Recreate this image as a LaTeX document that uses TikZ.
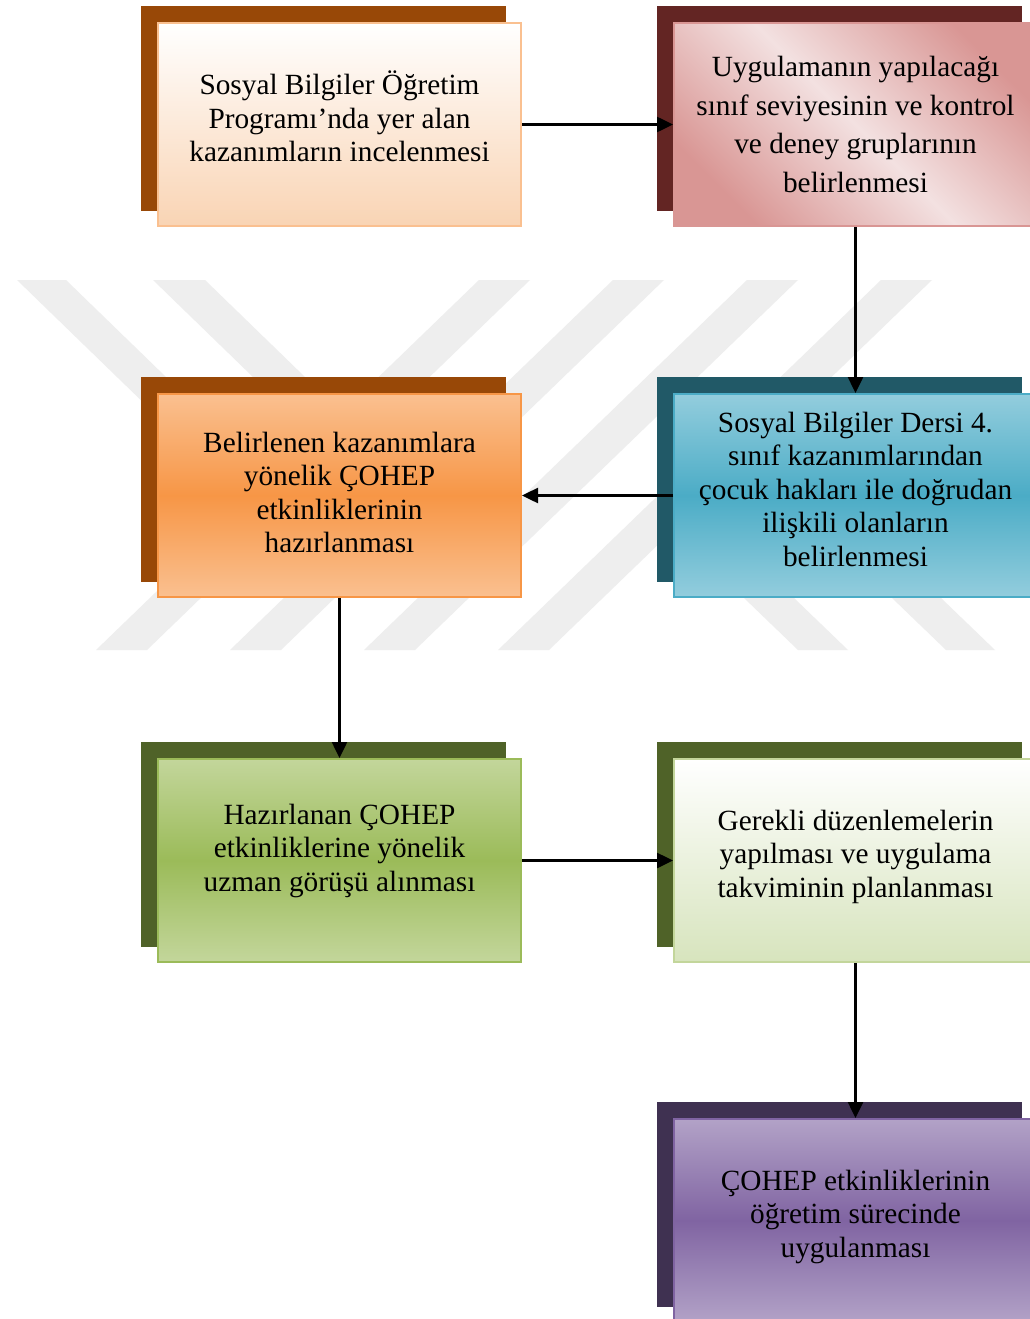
\documentclass[tikz,border=0pt]{standalone}
\usepackage{fontspec}
\setmainfont{Liberation Serif}
\usetikzlibrary{arrows.meta}

% back (shadow) colours
\definecolor{brownback}{HTML}{984807}
\definecolor{wineback}{HTML}{632523}
\definecolor{tealback}{HTML}{215967}
\definecolor{oliveback}{HTML}{4F6228}
\definecolor{plumback}{HTML}{3F3151}
% front colours
\definecolor{peach}{HTML}{F9D4B4}
\definecolor{peachline}{HTML}{FAC090}
\definecolor{rosedark}{HTML}{D99694}
\definecolor{roselight}{HTML}{F3E1E1}
\definecolor{orangelight}{HTML}{FAC090}
\definecolor{orangemid}{HTML}{F79646}
\definecolor{bluelight}{HTML}{93CDDD}
\definecolor{bluemid}{HTML}{4BACC6}
\definecolor{greenlight}{HTML}{C3D69B}
\definecolor{greenmid}{HTML}{9BBB59}
\definecolor{palegreen}{HTML}{D7E4BD}
\definecolor{purplelight}{HTML}{B2A2C7}
\definecolor{purplemid}{HTML}{8064A2}
\definecolor{wmgray}{HTML}{EEEEEE}

\begin{document}
\begin{tikzpicture}[x=1pt,y=-1pt,
  front/.style={rectangle, minimum width=363pt, minimum height=203pt,
    line width=2pt, inner sep=0pt},
  backbox/.style={rectangle, minimum width=365pt, minimum height=205pt,
    inner sep=0pt, outer sep=0pt},
  boxtext/.style={anchor=base, inner sep=0pt,
    font=\fontsize{29.3}{33.5}\selectfont},
  widetext/.style={anchor=base, inner sep=0pt,
    font=\fontsize{29.3}{38.5}\selectfont},
  flow/.style={line width=2.5pt, -{Triangle[length=16pt,width=15pt]}},
  stripe/.style={fill=wmgray}
]
\useasboundingbox (0,0) rectangle (1030,1319);
\fill[white] (0,0) rectangle (1030,1319);
\clip (0,0) rectangle (1030,1319);

% light grey emblem in the background
\fill[stripe] (96,650) -- (147,650) -- (530,280) -- (479,280) -- cycle;
\fill[stripe] (230,650) -- (281,650) -- (664,280) -- (613,280) -- cycle;
\fill[stripe] (364,650) -- (415,650) -- (798,280) -- (747,280) -- cycle;
\fill[stripe] (498,650) -- (549,650) -- (932,280) -- (881,280) -- cycle;
\fill[stripe] (17,280) -- (66,280) -- (200,410) -- (151,410) -- cycle;
\fill[stripe] (153,280) -- (205,280) -- (339,410) -- (287,410) -- cycle;
\fill[stripe] (663,520) -- (713,520) -- (848,650) -- (798,650) -- cycle;
\fill[stripe] (811,520) -- (860,520) -- (995,650) -- (946,650) -- cycle;

% shadow boxes
\node[backbox, fill=brownback] (s1) at (323.5,108.5) {};
\node[backbox, fill=wineback]  (s2) at (839.5,108.5) {};
\node[backbox, fill=brownback] (s3) at (323.5,479.5) {};
\node[backbox, fill=tealback]  (s4) at (839.5,479.5) {};
\node[backbox, fill=oliveback] (s5) at (323.5,844.5) {};
\node[backbox, fill=oliveback] (s6) at (839.5,844.5) {};
\node[backbox, fill=plumback]  (s7) at (839.5,1204.5) {};

% front boxes
\node[front, draw=peachline, top color=white, bottom color=peach]
  (b1) at (339.5,124.5) {};
\node[front, draw=rosedark, shading=axis, top color=rosedark,
  bottom color=rosedark, middle color=roselight, shading angle=-45]
  (b2) at (855.5,124.5) {};
\node[front, draw=orangemid, top color=orangelight, bottom color=orangelight,
  middle color=orangemid] (b3) at (339.5,495.5) {};
\node[front, draw=bluemid, top color=bluelight, bottom color=bluelight,
  middle color=bluemid] (b4) at (855.5,495.5) {};
\node[front, draw=greenmid, top color=greenlight, bottom color=greenlight,
  middle color=greenmid] (b5) at (339.5,860.5) {};
\node[front, draw=greenlight, top color=white, bottom color=palegreen]
  (b6) at (855.5,860.5) {};
\node[front, draw=purplemid, top color=purplelight, bottom color=purplelight,
  middle color=purplemid] (b7) at (855.5,1220.5) {};

% texts (anchored at the baseline of their first line)
\node[boxtext] (t1) at (339.5,95) {\begin{tabular}[t]{@{}c@{}}Sosyal Bilgiler Öğretim\\Programı’nda yer alan\\kazanımların incelenmesi\end{tabular}};
\node[widetext] (t2) at (855.5,77) {\begin{tabular}[t]{@{}c@{}}Uygulamanın yapılacağı\\sınıf seviyesinin ve kontrol\\ve deney gruplarının\\belirlenmesi\end{tabular}};
\node[boxtext] (t3) at (339.5,452) {\begin{tabular}[t]{@{}c@{}}Belirlenen kazanımlara\\yönelik ÇOHEP\\etkinliklerinin\\hazırlanması\end{tabular}};
\node[boxtext] (t4) at (855.5,432) {\begin{tabular}[t]{@{}c@{}}Sosyal Bilgiler Dersi 4.\\sınıf kazanımlarından\\çocuk hakları ile doğrudan\\ilişkili olanların\\belirlenmesi\end{tabular}};
\node[boxtext] (t5) at (339.5,824) {\begin{tabular}[t]{@{}c@{}}Hazırlanan ÇOHEP\\etkinliklerine yönelik\\uzman görüşü alınması\end{tabular}};
\node[boxtext] (t6) at (855.5,830) {\begin{tabular}[t]{@{}c@{}}Gerekli düzenlemelerin\\yapılması ve uygulama\\takviminin planlanması\end{tabular}};
\node[boxtext] (t7) at (855.5,1190) {\begin{tabular}[t]{@{}c@{}}ÇOHEP etkinliklerinin\\öğretim sürecinde\\uygulanması\end{tabular}};

% connectors
\draw[flow] (b1.east) -- (b2.west);
\draw[flow] (b2.south) -- (b4.north);
\draw[flow] (b4.west) -- (b3.east);
\draw[flow] (b3.south) -- (b5.north);
\draw[flow] (b5.east) -- (b6.west);
\draw[flow] (b6.south) -- (b7.north);
\end{tikzpicture}
\end{document}
